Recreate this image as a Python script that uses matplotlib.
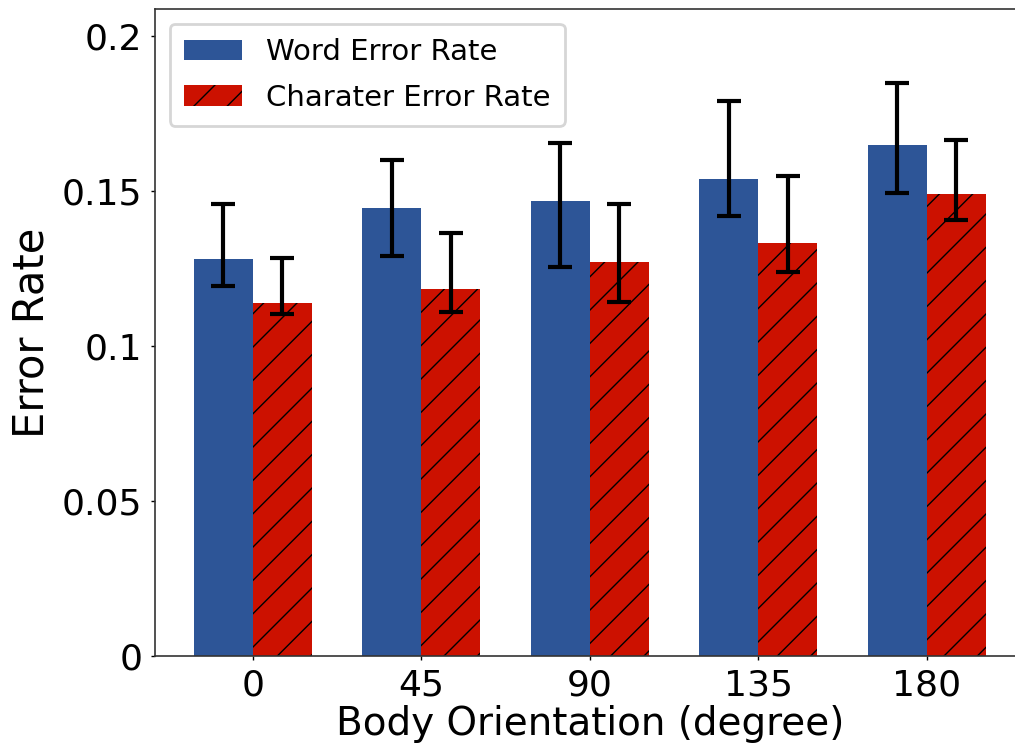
import numpy as np
import matplotlib
matplotlib.use("Agg")
import matplotlib.pyplot as plt

# values
angles = ["0", "45", "90", "135", "180"]
word_rate = [0.1282, 0.1444, 0.1469, 0.1540, 0.1648]
word_hi = [0.1457, 0.1600, 0.1654, 0.1790, 0.1850]
word_lo = [0.1194, 0.1290, 0.1254, 0.1419, 0.1492]
char_rate = [0.1138, 0.1184, 0.1272, 0.1331, 0.1490]
char_hi = [0.1285, 0.1364, 0.1458, 0.1548, 0.1665]
char_lo = [0.1102, 0.1111, 0.1141, 0.1239, 0.1405]
yticks = [0, 0.05, 0.1, 0.15, 0.2]
ytick_labels = ["0", "0.05", "0.1", "0.15", "0.2"]

plt.rcParams["hatch.linewidth"] = 0.5

fig = plt.figure(figsize=(5.075, 3.735), dpi=200)
ax = fig.add_axes([0.1527, 0.1218, 0.8568, 0.8661])

x = np.arange(len(angles))
width = 0.35

word_err = [np.array(word_rate) - np.array(word_lo), np.array(word_hi) - np.array(word_rate)]
char_err = [np.array(char_rate) - np.array(char_lo), np.array(char_hi) - np.array(char_rate)]

err_kw = dict(ecolor="black", elinewidth=1.5, capsize=4.3, capthick=1.5)

ax.bar(x - width / 2, word_rate, width, color="#2d5597", edgecolor="black",
       linewidth=0, yerr=word_err, error_kw=err_kw, label="Word Error Rate")
ax.bar(x + width / 2, char_rate, width, color="#cc1100", edgecolor="black",
       linewidth=0, hatch="//", yerr=char_err, error_kw=err_kw,
       label="Charater Error Rate")

ax.set_xlim(-0.58, len(angles) - 1 + 0.58)
ax.set_ylim(0, 0.2087)
ax.set_xticks(x)
ax.set_xticklabels(angles)
ax.set_yticks(yticks)
ax.set_yticklabels(ytick_labels)
ax.tick_params(axis="both", labelsize=13, length=1.5, width=0.5, pad=3)

for s in ax.spines.values():
    s.set_linewidth(0.6)
    s.set_color("#333333")

ax.set_xlabel("Body Orientation (degree)", fontsize=14, labelpad=1)
ax.set_ylabel("Error Rate", fontsize=15, labelpad=3.5)

ax.legend(loc="upper left", fontsize=10.5, labelspacing=0.6, borderpad=0.5)

plt.savefig("out.png", dpi=200)
plt.close()
